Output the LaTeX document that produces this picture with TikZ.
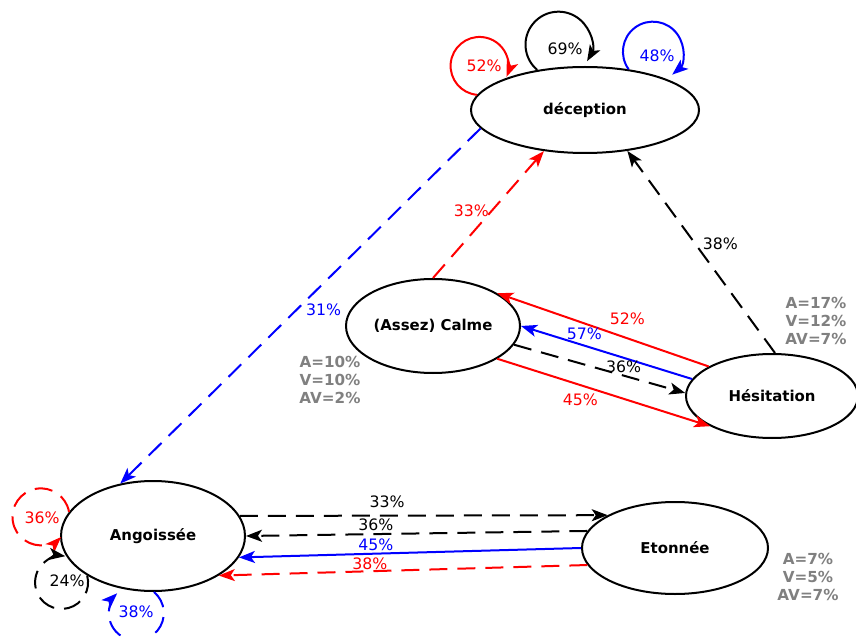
\documentclass[tikz,border=0pt]{standalone}
\usepackage{fontspec}
\setmainfont{DejaVu Sans}
\usetikzlibrary{arrows.meta, shapes.geometric}
\definecolor{statgray}{HTML}{808080}

\begin{document}
\begin{tikzpicture}[x = 0.75pt, y = 0.75pt]

\tikzset{
state/.style = {ellipse, draw, line width = 1.5pt, inner sep = 0pt, 
	font = \fontsize{11.2}{13}\selectfont\bfseries},
trans/.style = {-{Stealth[length = 12pt, width = 9pt, inset = 3pt]}, line width = 1.5pt},
longdash/.style = {dash pattern = on 13.5pt off 7.5pt},
pct/.style = {font = \fontsize{11.8}{13}\selectfont, inner sep = 1.5pt},
stats/.style = {text = statgray, align = center, 
	font = \fontsize{11.4}{13.5}\selectfont\bfseries},
}

\useasboundingbox (0, 0) rectangle (856, 636);

%% States
\node at (585, 526) [state, minimum width = 171pt, minimum height = 64.5pt] (dec) {déception};
\node at (433, 310) [state, minimum width = 130.5pt, minimum height = 70.5pt] (calme) {(Assez) Calme};
\node at (772, 240) [state, minimum width = 129pt, minimum height = 63pt] (hes) {Hésitation};
\node at (153, 100) [state, minimum width = 138pt, minimum height = 82.5pt] (ang) {Angoissée};
\node at (675, 88) [state, minimum width = 139.5pt, minimum height = 69pt] (eto) {Etonnée};

% Stats
\node at (330, 256) [stats] (s-calme) {A=10\%\\V=10\%\\AV=2\%};
\node at (816, 315) [stats] (s-hes) {A=17\%\\V=12\%\\AV=7\%};
\node at (808, 59) [stats] (s-eto) {A=7\%\\V=5\%\\AV=7\%};

%% Transitions
% towards déception
\path [trans, longdash, blue] (dec.190) edge node [pct, right = 2pt, yshift = -3pt] (p-dec-ang) {31\%} (ang.122);
\path [trans, longdash, red] (calme.90) edge node [pct, pos = 0.53, left] (p-calme-dec) {33\%} (dec.225);
\path [trans, longdash] (hes.86) edge node [pct, pos = 0.54, right = 3.5pt] (p-hes-dec) {38\%} (dec.316);

% Calme <-> Hésitation
\path [trans, red] (hes.155) edge node [pct, pos = 0.385, above = 8pt] (p-hes-calme-a) {52\%} (calme.27);
\path [trans, blue] (hes.168) edge node [pct, pos = 0.63, above = 2pt] (p-hes-calme-b) {57\%} (calme.0);
\path [trans, longdash] (calme.347) edge node [pct, pos = 0.64, above] (p-calme-hes-a) {36\%} (hes.178);
\path [trans, red] (calme.333) edge node [pct, pos = 0.39, below = 4pt] (p-calme-hes-b) {45\%} (hes.206);

% Angoissée <-> Etonnée
\path [trans, longdash] (ang.13) edge node [pct, pos = 0.4, above = 3.5pt] (p-ang-eto) {33\%} (eto.154);
\path [trans, longdash] (eto.169) edge node [pct, pos = 0.62, above] (p-eto-ang-a) {36\%} (ang.0);
\path [trans, blue] (eto.180) edge node [pct, pos = 0.6, above] (p-eto-ang-b) {45\%} (ang.346);
\path [trans, longdash, red] (eto.191) edge node [pct, pos = 0.59, above = -1pt] (p-eto-ang-c) {38\%} (ang.329);

%% Loops
\draw [trans, red] (dec.172) arc [start angle = 265, end angle = -22, radius = 29];
\draw [trans] (dec.140) arc [start angle = 230, end angle = -30, radius = 33];
\draw [trans, blue] (dec.43) arc [start angle = 216, end angle = -50, radius = 30];
\node at (484, 570) [pct, red] (p-dec-a) {52\%};
\node at (565, 587) [pct] (p-dec-b) {69\%};
\node at (657, 580) [pct, blue] (p-dec-c) {48\%};

\draw [trans, longdash, red] (ang.164) arc [start angle = 10, end angle = 315, radius = 28.5];
\draw [trans, longdash] (ang.211) arc [start angle = 15, end angle = -278, radius = 26.5];
\draw [trans, longdash, blue] (ang.271) arc [start angle = 50, end angle = -226, radius = 27.5];
\node at (42, 118) [pct, red] (p-ang-a) {36\%};
\node at (67, 55) [pct] (p-ang-b) {24\%};
\node at (136, 24) [pct, blue] (p-ang-c) {38\%};

\end{tikzpicture}
\end{document}
